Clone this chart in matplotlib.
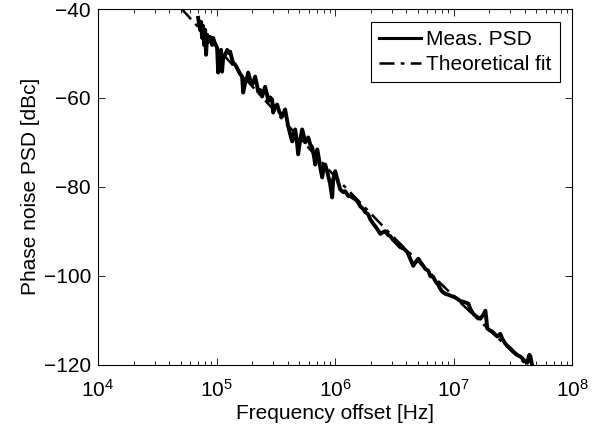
import numpy as np
import matplotlib
matplotlib.use("Agg")
import matplotlib.pyplot as plt

plt.rcParams["font.family"] = ["Liberation Sans", "DejaVu Sans"]
plt.rcParams["mathtext.fontset"] = "custom"
plt.rcParams["mathtext.rm"] = "Liberation Sans"
plt.rcParams["mathtext.it"] = "Liberation Sans:italic"

# ── Measured phase-noise PSD (read off the plot) ──────────────────────────────
# log10 of the offset frequency in Hz, and the PSD in dBc
meas_logf = [
    4.845, 4.861, 4.870, 4.878, 4.887, 4.895, 4.904, 4.912, 4.921, 4.929,
    4.946, 4.963, 4.971, 4.988, 5.005, 5.014, 5.022, 5.030, 5.039, 5.047,
    5.056, 5.073, 5.090, 5.106, 5.115, 5.132, 5.140, 5.157, 5.182, 5.199,
    5.216, 5.225, 5.242, 5.258, 5.267, 5.284, 5.301, 5.318, 5.326, 5.343,
    5.351, 5.368, 5.385, 5.410, 5.427, 5.436, 5.453, 5.470, 5.478, 5.495,
    5.512, 5.529, 5.554, 5.579, 5.605, 5.622, 5.639, 5.655, 5.664, 5.681,
    5.689, 5.706, 5.723, 5.740, 5.748, 5.765, 5.774, 5.791, 5.807, 5.824,
    5.833, 5.850, 5.858, 5.875, 5.892, 5.909, 5.917, 5.934, 5.943, 5.959,
    5.976, 5.985, 6.002, 6.019, 6.044, 6.069, 6.086, 6.112, 6.128, 6.171,
    6.188, 6.213, 6.238, 6.255, 6.280, 6.297, 6.314, 6.340, 6.356, 6.382,
    6.407, 6.424, 6.449, 6.466, 6.492, 6.508, 6.551, 6.584, 6.610, 6.635,
    6.660, 6.677, 6.703, 6.720, 6.745, 6.762, 6.787, 6.804, 6.829, 6.846,
    6.872, 6.889, 6.905, 6.931, 6.956, 6.973, 7.007, 7.032, 7.057, 7.083,
    7.108, 7.125, 7.142, 7.167, 7.193, 7.226, 7.252, 7.269, 7.277, 7.285,
    7.311, 7.328, 7.353, 7.370, 7.395, 7.412, 7.437, 7.463, 7.480, 7.505,
    7.522, 7.547, 7.564, 7.590, 7.606, 7.623, 7.640, 7.649, 7.666,
]
meas_db = [
    -42.0, -44.7, -42.9, -46.5, -43.8, -48.1, -44.7, -50.3, -45.8, -47.4,
    -46.3, -48.1, -46.5, -47.8, -48.7, -54.3, -50.3, -51.9, -49.2, -54.1,
    -51.0, -50.3, -49.2, -49.9, -49.6, -51.4, -52.1, -52.5, -53.7, -54.6,
    -55.2, -58.8, -56.6, -55.5, -54.3, -55.9, -57.0, -55.9, -55.2, -57.3,
    -58.6, -58.2, -59.7, -57.5, -59.3, -60.8, -59.9, -60.4, -63.3, -62.0,
    -61.5, -63.1, -64.2, -62.6, -66.4, -68.2, -69.8, -67.8, -67.1, -70.5,
    -72.7, -69.4, -67.1, -68.9, -70.0, -69.4, -68.9, -70.5, -71.1, -73.4,
    -75.0, -71.6, -72.7, -75.6, -77.9, -75.0, -75.0, -76.5, -77.6, -79.4,
    -82.4, -78.3, -76.5, -78.3, -80.6, -81.2, -81.0, -82.1, -82.1, -82.8,
    -83.2, -84.4, -85.0, -85.7, -86.2, -87.3, -88.0, -88.9, -89.5, -90.6,
    -90.2, -90.0, -90.9, -91.1, -92.0, -92.4, -93.6, -94.0, -94.7, -96.2,
    -97.8, -97.1, -96.2, -96.9, -97.8, -98.5, -98.9, -100.1, -100.3, -101.2,
    -102.1, -103.0, -103.6, -104.1, -104.3, -104.5, -104.8, -105.2, -105.7, -105.9,
    -106.1, -106.3, -107.5, -108.6, -109.2, -109.7, -108.8, -107.9, -109.7, -111.9,
    -112.4, -112.6, -113.3, -113.7, -113.1, -114.2, -115.3, -116.0, -116.4, -117.1,
    -117.5, -118.0, -118.2, -118.9, -119.3, -119.6, -117.8, -118.2, -120.5,
]

# ── Theoretical fit ───────────────────────────────────────────────────────────
fit_logf = [4.70, 5.00, 5.50, 6.00, 6.50, 7.00, 7.50, 7.75]
fit_db   = [-39.8, -48.6, -63.2, -77.7, -91.5, -104.6, -117.2, -123.3]

meas_f = 10.0 ** np.array(meas_logf)
fit_f  = 10.0 ** np.array(fit_logf)

fig = plt.figure(figsize=(6.08, 4.29), dpi=100)
ax = fig.add_axes([0.1612, 0.1503, 0.7796, 0.8287])

ax.semilogx(fit_f, fit_db, color="black", linewidth=1.8,
            linestyle=(0, (6, 2.5, 1.5, 2.5)), label="Theoretical fit")
ax.semilogx(meas_f, meas_db, color="black", linewidth=2.8,
            solid_joinstyle="round", label="Meas. PSD")

ax.set_xlim(1e4, 1e8)
ax.set_ylim(-120, -40)
ax.set_yticks([-120, -100, -80, -60, -40])

ax.tick_params(which="both", direction="in", top=True, right=True,
               labelsize=15, width=0.6)
ax.tick_params(which="major", length=5, pad=5)
ax.tick_params(axis="x", which="major", pad=10)
ax.tick_params(which="minor", length=3)
for sp in ax.spines.values():
    sp.set_linewidth(0.8)

ax.set_xlabel("Frequency offset [Hz]", fontsize=15, labelpad=3)
ax.set_ylabel("Phase noise PSD [dBc]", fontsize=15, labelpad=3)

handles, labels = ax.get_legend_handles_labels()
leg = ax.legend(handles[::-1], labels[::-1], loc="upper right", fontsize=15,
                handlelength=2.0, handletextpad=0.25, borderpad=0.4,
                labelspacing=0.3, borderaxespad=0.6, fancybox=False,
                framealpha=1)
leg.get_frame().set_edgecolor("black")
leg.get_frame().set_linewidth(0.8)
leg.get_lines()[0].set_linewidth(2.2)

plt.savefig("out.png", dpi=100)
plt.close()
